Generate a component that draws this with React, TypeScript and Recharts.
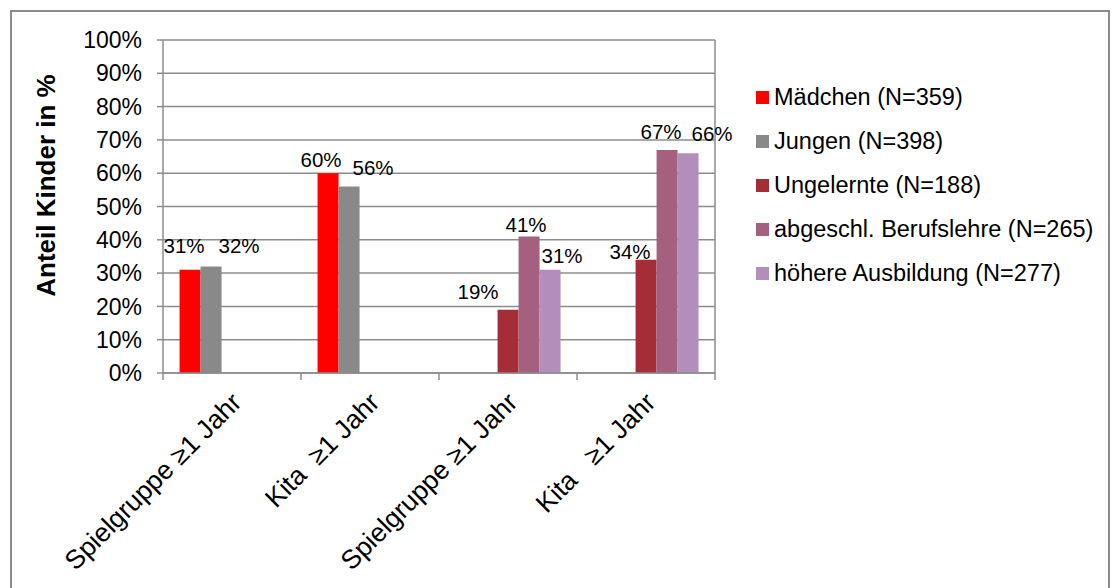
import React from 'react';
import { BarChart, Bar, XAxis, YAxis, CartesianGrid, Legend, LabelList } from 'recharts';

const FONT = '"Liberation Sans", Arial, sans-serif';
const AXIS_GRAY = '#8c8c8c';

// categories and series (percent of children)
const categories = ['Spielgruppe ≥1 Jahr', 'Kita  ≥1 Jahr', 'Spielgruppe ≥1 Jahr', 'Kita   ≥1 Jahr'];
const maedchen = [31, 60, null, null];
const jungen = [32, 56, null, null];
const ungelernte = [null, null, 19, 34];
const berufslehre = [null, null, 41, 67];
const hoehere = [null, null, 31, 66];
const yTicks = [0, 10, 20, 30, 40, 50, 60, 70, 80, 90, 100];

const values: Record<string, (number | null)[]> = { maedchen, jungen, ungelernte, berufslehre, hoehere };

const series = [
    { key: 'maedchen', name: 'Mädchen (N=359)', color: '#ff0000' },
    { key: 'jungen', name: 'Jungen (N=398)', color: '#898989' },
    { key: 'ungelernte', name: 'Ungelernte (N=188)', color: '#a52d38' },
    { key: 'berufslehre', name: 'abgeschl. Berufslehre (N=265)', color: '#a5607f' },
    { key: 'hoehere', name: 'höhere Ausbildung (N=277)', color: '#b38eba' },
];

// label nudges relative to bar top-center, per category (the labels were hand-placed in the original)
const labelNudge: Record<string, number[][]> = {
    maedchen: [[-6, -24], [-7, -14], [0, 0], [0, 0]],
    jungen: [[28, -21], [24, -19], [0, 0], [0, 0]],
    ungelernte: [[0, 0], [0, 0], [-30, -18], [-16, -8]],
    berufslehre: [[0, 0], [0, 0], [-3, -12], [-6, -18]],
    hoehere: [[0, 0], [0, 0], [12, -14], [24, -20]],
};

const data = categories.map((cat, i) => ({
    id: i,
    cat,
    maedchen: maedchen[i],
    jungen: jungen[i],
    ungelernte: ungelernte[i],
    berufslehre: berufslehre[i],
    hoehere: hoehere[i],
}));

// LabelList is fed the category id, the shown value is looked up from the series
function makeLabel(key: string) {
    return (props: any) => {
        const { x, y, width, value } = props;
        const idx = Number(value);
        const v = values[key][idx];
        if (v == null) return null;
        const [dx, dy] = labelNudge[key][idx] || [0, 0];
        return (
            <text
                x={x + width / 2 + dx}
                y={y + dy}
                textAnchor="middle"
                dominantBaseline="central"
                fontSize={20.5}
                fontFamily={FONT}
                fill="#000"
            >
                {v}%
            </text>
        );
    };
}

function CategoryTick(props: any) {
    const { x, y, payload, index, visibleTicksCount } = props;
    const half = payload.offset || 0;
    const label = categories[index] ?? payload.value;
    return (
        <g>
            <line x1={x - half} y1={y - 8} x2={x - half} y2={y - 1} stroke={AXIS_GRAY} strokeWidth={1.5} />
            {index === visibleTicksCount - 1 && (
                <line x1={x + half} y1={y - 8} x2={x + half} y2={y - 1} stroke={AXIS_GRAY} strokeWidth={1.5} />
            )}
            <text
                x={x + 11}
                y={y + 23}
                textAnchor="end"
                transform={`rotate(-45, ${x + 11}, ${y + 23})`}
                fontSize={26.5}
                fontFamily={FONT}
                fill="#000"
                style={{ whiteSpace: 'pre' }}
            >
                {label}
            </text>
        </g>
    );
}

function renderLegend() {
    return (
        <div style={{ fontFamily: FONT, fontSize: 23.5, color: '#000' }}>
            {series.map((s) => (
                <div key={s.key} style={{ display: 'flex', alignItems: 'center', height: 43.8 }}>
                    <span style={{ display: 'inline-block', width: 13, height: 13, background: s.color, marginRight: 5 }} />
                    <span style={{ whiteSpace: 'nowrap' }}>{s.name}</span>
                </div>
            ))}
        </div>
    );
}

function YTitle(props: any) {
    const vb = props.viewBox || { x: 0, y: 0, height: 0 };
    const cx = vb.x + 34;
    const cy = vb.y + vb.height / 2 - 21;
    return (
        <text
            x={cx}
            y={cy}
            textAnchor="middle"
            dominantBaseline="central"
            transform={`rotate(-90, ${cx}, ${cy})`}
            fontSize={26}
            fontWeight="bold"
            fontFamily={FONT}
            fill="#000"
        >
            Anteil Kinder in %
        </text>
    );
}

export default function App() {
    return (
        <div style={{
            position: 'absolute',
            left: 10,
            top: 10,
            width: 1100,
            height: 578,
            boxSizing: 'border-box',
            border: `2px solid ${AXIS_GRAY}`,
            borderBottom: 'none',
            background: '#fff',
        }}>
            <BarChart
                width={1096}
                height={576}
                data={data}
                margin={{ top: 28, right: 0, left: 0, bottom: 0 }}
                barCategoryGap="12%"
                barGap={0}
            >
                <CartesianGrid vertical={false} stroke={AXIS_GRAY} strokeWidth={1.5} yAxisId="l" />
                <XAxis
                    dataKey="id"
                    height={215}
                    interval={0}
                    tickLine={false}
                    tickSize={8}
                    tickMargin={0}
                    axisLine={{ stroke: AXIS_GRAY, strokeWidth: 1.5 }}
                    tick={<CategoryTick />}
                />
                <YAxis
                    yAxisId="l"
                    width={151}
                    domain={[0, 100]}
                    ticks={yTicks}
                    tickFormatter={(v: number) => `${v}%`}
                    tickSize={6}
                    tickMargin={15}
                    tickLine={{ stroke: AXIS_GRAY, strokeWidth: 1.5 }}
                    axisLine={{ stroke: AXIS_GRAY, strokeWidth: 1.5 }}
                    tick={{ fill: '#000', fontSize: 23, fontFamily: FONT }}
                    label={<YTitle />}
                />
                <YAxis
                    yAxisId="r"
                    orientation="right"
                    width={393}
                    domain={[0, 100]}
                    tick={false}
                    tickLine={false}
                    axisLine={{ stroke: AXIS_GRAY, strokeWidth: 1.5 }}
                />
                <Legend
                    layout="vertical"
                    verticalAlign="middle"
                    align="center"
                    content={renderLegend}
                    wrapperStyle={{ left: 744, top: 64, width: 350 }}
                />
                {series.map((s) => (
                    <Bar
                        key={s.key}
                        yAxisId="l"
                        dataKey={s.key}
                        name={s.name}
                        fill={s.color}
                        isAnimationActive={false}
                    >
                        <LabelList dataKey="id" content={makeLabel(s.key)} />
                    </Bar>
                ))}
            </BarChart>
        </div>
    );
}
